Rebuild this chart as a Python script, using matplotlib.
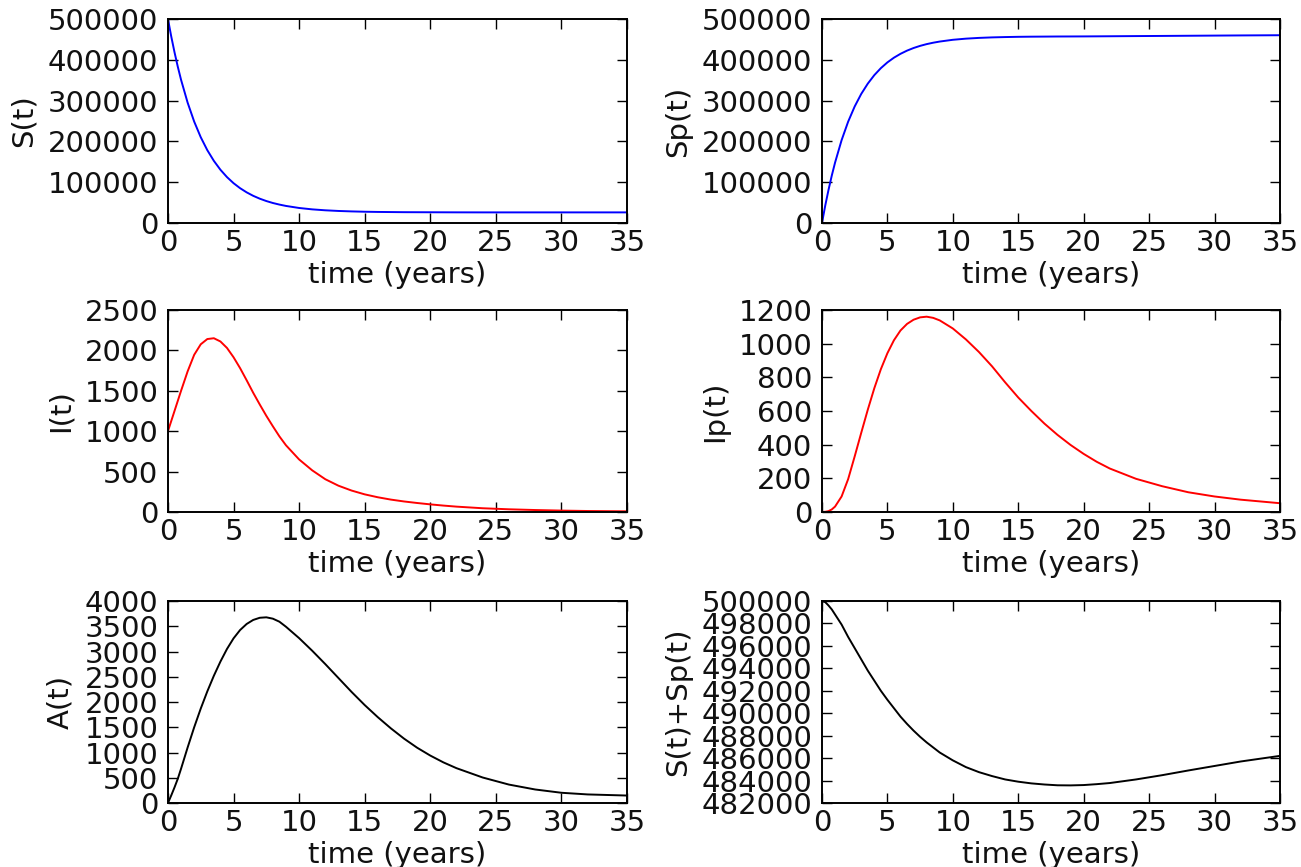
import matplotlib
matplotlib.use("Agg")
import matplotlib.pyplot as plt
from matplotlib.ticker import MultipleLocator

# ---------------- data ----------------
t = [0, 0.25, 0.5, 0.75, 1, 1.5, 2, 2.5, 3, 3.5, 4, 4.5, 5, 5.5, 6, 6.5, 7, 7.5,
     8, 8.5, 9, 10, 11, 12, 13, 14, 15, 16, 17, 18, 19, 20, 21, 22, 24, 26, 28, 30, 32, 35]

S = [500000, 457200, 418400, 383000, 350800, 294900, 248500, 210200, 178500, 152300,
     130500, 112500, 97600, 85300, 75100, 66600, 59600, 53800, 49000, 45100, 41800,
     36800, 33400, 31100, 29500, 28400, 27600, 27100, 26800, 26500, 26400, 26300,
     26200, 26100, 26000, 26000, 26000, 26000, 26000, 26000]

Sp = [0, 42700, 81200, 116250, 148000, 203000, 248300, 285600, 316300, 341500,
      362400, 379500, 393600, 405150, 414600, 422450, 428850, 434100, 438400, 441850,
      444700, 449000, 451800, 453650, 454900, 455700, 456300, 456650, 456850, 457080,
      457170, 457300, 457480, 457680, 458100, 458480, 458900, 459300, 459700, 460200]

I = [1000, 1125, 1250, 1375, 1500, 1740, 1945, 2075, 2140, 2150, 2110, 2030, 1915,
     1780, 1630, 1475, 1330, 1190, 1060, 935, 825, 650, 515, 405, 325, 265, 218, 182,
     153, 130, 111, 94, 79, 66, 46, 33, 24, 17, 12, 8]

Ip = [0, 1, 5, 15, 32, 92, 195, 330, 470, 607, 735, 848, 943, 1020, 1078, 1117, 1142,
      1156, 1160, 1153, 1138, 1090, 1025, 950, 865, 770, 680, 600, 525, 458, 398, 345,
      298, 258, 197, 153, 117, 92, 73, 52]

A = [0, 150, 310, 480, 680, 1100, 1500, 1870, 2210, 2520, 2800, 3050, 3260, 3425,
     3545, 3625, 3668, 3677, 3650, 3590, 3490, 3265, 3015, 2750, 2475, 2200, 1940,
     1700, 1478, 1275, 1095, 940, 805, 690, 505, 365, 268, 203, 170, 148]

SSp = [500000, 499900, 499600, 499250, 498800, 497900, 496800, 495800, 494800, 493800,
       492900, 492000, 491200, 490450, 489700, 489050, 488450, 487900, 487400, 486950,
       486500, 485800, 485200, 484750, 484400, 484100, 483900, 483750, 483650, 483580,
       483570, 483600, 483680, 483780, 484100, 484480, 484900, 485300, 485700, 486200]

xlabel = "time (years)"

panels = [
    # (series, ylabel, color, ymin, ymax, ystep, axes rect)
    (S,   "S(t)",       "b", 0, 500000, 100000, [0.1291, 0.7428, 0.3528, 0.2353]),
    (Sp,  "Sp(t)",      "b", 0, 500000, 100000, [0.6318, 0.7428, 0.3520, 0.2353]),
    (I,   "I(t)",       "r", 0, 2500, 500,      [0.1291, 0.4095, 0.3528, 0.2330]),
    (Ip,  "Ip(t)",      "r", 0, 1200, 200,      [0.6318, 0.4095, 0.3520, 0.2330]),
    (A,   "A(t)",       "k", 0, 4000, 500,      [0.1291, 0.0738, 0.3528, 0.2330]),
    (SSp, "S(t)+Sp(t)", "k", 482000, 500000, 2000, [0.6318, 0.0738, 0.3520, 0.2330]),
]

plt.rcParams["font.family"] = ["DejaVu Sans"]
fig = plt.figure(figsize=(13.01, 8.67), dpi=100)
fig.patch.set_facecolor("white")

FS = 21
for y, lab, col, y0, y1, ystep, rect in panels:
    ax = fig.add_axes(rect)
    ax.plot(t, y, color=col, lw=1.4)
    ax.set_xlim(0, 35)
    ax.set_ylim(y0, y1)
    ax.xaxis.set_major_locator(MultipleLocator(5))
    ax.yaxis.set_major_locator(MultipleLocator(ystep))
    ax.ticklabel_format(useOffset=False, style="plain")
    ax.tick_params(direction="in", length=7, width=1.0, top=True, right=True,
                   labelsize=FS, colors="black", labelcolor="#111111", pad=4)
    ax.tick_params(axis="y", pad=7)
    for sp in ax.spines.values():
        sp.set_linewidth(1.4)
    ax.set_xlabel(xlabel, fontsize=FS, labelpad=3, color="#111111")
    ax.set_ylabel(lab, fontsize=FS, labelpad=7, color="#111111")

fig.savefig("out.png", dpi=100, facecolor="white")
